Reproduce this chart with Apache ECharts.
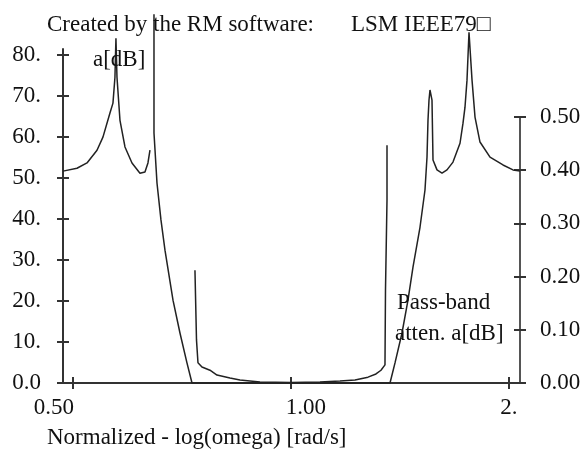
<!DOCTYPE html>
<html>
<head>
<meta charset="utf-8">
<script src="https://cdn.jsdelivr.net/npm/echarts@6/dist/echarts.min.js"></script>
<style>
html, body { margin: 0; padding: 0; background: #fff; }
#chart { width: 586px; height: 454px; }
</style>
</head>
<body>
<div id="chart"></div>
<script>
var myChart = echarts.init(document.getElementById('chart'));

// stop-band attenuation, left lobe (a[dB])
var lobeW  = [0.4844, 0.5064, 0.5228, 0.5397, 0.5500, 0.5624, 0.5678, 0.5714, 0.5732, 0.5751, 0.5806, 0.5899, 0.6032, 0.6187, 0.6286, 0.6346, 0.6387];
var lobeDb = [51.7, 52.4, 53.7, 56.8, 60.0, 65.9, 68.3, 74.6, 84.1, 74.6, 64.1, 57.6, 53.7, 51.2, 51.5, 53.7, 56.8];

// stop-band attenuation through the transition bands and the right lobes
var stopW  = [0.6469, 0.6469, 0.6531, 0.6614, 0.6699, 0.6872, 0.7026, 0.7184, 0.7300, 1.0000, 1.3700, 1.3920, 1.4233, 1.4506, 1.4739, 1.5071, 1.5312, 1.5410, 1.5459, 1.5508, 1.5557, 1.5657, 1.5707, 1.5908, 1.6163, 1.6422, 1.6738, 1.7115, 1.7279, 1.7389, 1.7500, 1.7612, 1.7668, 1.7782, 1.7951, 1.8238, 1.8828, 1.9622, 2.0256, 2.0712];
var stopDb = [90.0, 61.0, 48.8, 39.8, 32.4, 20.2, 12.2, 4.9, 0.0, 0.0, 0.0, 4.9, 12.2, 20.2, 28.3, 38.0, 47.1, 55.1, 64.1, 69.0, 71.5, 69.0, 54.4, 52.0, 51.2, 52.0, 53.9, 58.5, 63.4, 67.3, 73.9, 85.6, 85.6, 73.9, 64.9, 58.8, 55.1, 53.2, 52.0, 51.7];

// pass-band attenuation (right axis)
var passW  = [0.7369, 0.7405, 0.7440, 0.7535, 0.7729, 0.7903, 0.8237, 0.8503, 0.9061, 1.0000, 1.0966, 1.1686, 1.2257, 1.2774, 1.3103, 1.3313, 1.3483, 1.3505, 1.3570, 1.3570];
var passDb = [0.212, 0.081, 0.038, 0.030, 0.024, 0.015, 0.0094, 0.0056, 0.0019, 0.001, 0.0019, 0.0038, 0.0056, 0.011, 0.017, 0.024, 0.034, 0.175, 0.344, 0.447];

var dbTicks = [0, 10, 20, 30, 40, 50, 60, 70, 80];
var passTicks = [0, 0.1, 0.2, 0.3, 0.4, 0.5];
var omegaTicks = [0.5, 1, 2];
var omegaLabels = ['0.50', '1.00', '2.'];

var font = 'Liberation Serif';
var fontSize = 23;
var ink = '#111';
var axisColor = '#333';

function zip(xs, ys) {
    return xs.map(function (x, i) { return [x, ys[i]]; });
}

var xRange = { min: 0.4844, max: 2.0712 };

function omegaLabel(v) {
    var idx = 0;
    omegaTicks.forEach(function (t, i) { if (Math.abs(t - v) < 1e-6) idx = i; });
    var tag = ['l', 'r', 'c'][idx];
    return '{' + tag + '|' + omegaLabels[idx] + '}';
}

var labelStyle = { fontFamily: font, fontSize: fontSize, color: ink };

function note(text, left, top) {
    return {
        text: text, left: left, top: top, padding: 0,
        textStyle: { fontFamily: font, fontSize: fontSize, fontWeight: 'normal', color: ink }
    };
}

var option = {
    backgroundColor: '#fff',
    animation: false,
    title: [
        note('Created by the RM software:', 47, 13),
        note('LSM IEEE79\u25A1', 351, 13),
        note('a[dB]', 93, 48),
        note('Pass-band', 397, 291),
        note('atten. a[dB]', 395, 322),
        note('Normalized - log(omega) [rad/s]', 47, 426)
    ],
    grid: [
        { left: 63, right: 66, top: 49, bottom: 71 },
        { left: 63, right: 66, top: 117, bottom: 71 }
    ],
    xAxis: [{
        gridIndex: 0,
        type: 'log',
        min: xRange.min,
        max: xRange.max,
        position: 'bottom',
        axisLine: { show: true, lineStyle: { color: axisColor, width: 2 } },
        axisTick: { show: true, customValues: omegaTicks, length: 6, lineStyle: { color: axisColor, width: 2 } },
        axisLabel: {
            customValues: omegaTicks,
            margin: 13,
            formatter: omegaLabel,
            rich: {
                l: Object.assign({ padding: [0, 38, 0, 0] }, labelStyle),
                r: Object.assign({ padding: [0, 0, 0, 30] }, labelStyle),
                c: Object.assign({}, labelStyle)
            }
        },
        splitLine: { show: false },
        minorTick: { show: false }
    }, {
        gridIndex: 0,
        type: 'log',
        min: xRange.min,
        max: xRange.max,
        position: 'bottom',
        axisLine: { show: false },
        axisTick: { show: true, inside: true, customValues: omegaTicks, length: 6, lineStyle: { color: axisColor, width: 2 } },
        axisLabel: { show: false },
        splitLine: { show: false }
    }, {
        gridIndex: 1,
        type: 'log',
        min: xRange.min,
        max: xRange.max,
        show: false
    }],
    yAxis: [{
        gridIndex: 0,
        type: 'value',
        min: 0,
        max: 81.5,
        position: 'left',
        axisLine: { show: true, lineStyle: { color: axisColor, width: 2 } },
        axisTick: { show: true, customValues: dbTicks, length: 6, lineStyle: { color: axisColor, width: 2 } },
        axisLabel: {
            customValues: dbTicks,
            margin: 22,
            fontFamily: font,
            fontSize: fontSize,
            color: ink,
            formatter: function (v) { return v === 0 ? '0.0' : v + '.'; }
        },
        splitLine: { show: false }
    }, {
        gridIndex: 0,
        type: 'value',
        min: 0,
        max: 81.5,
        position: 'left',
        axisLine: { show: false },
        axisTick: { show: true, inside: true, customValues: dbTicks, length: 6, lineStyle: { color: axisColor, width: 2 } },
        axisLabel: { show: false },
        splitLine: { show: false }
    }, {
        gridIndex: 1,
        type: 'value',
        min: 0,
        max: 0.5,
        position: 'right',
        axisLine: { show: true, lineStyle: { color: '#555', width: 2 } },
        axisTick: { show: true, customValues: passTicks, length: 6, lineStyle: { color: axisColor, width: 2 } },
        axisLabel: {
            customValues: passTicks,
            margin: 20,
            fontFamily: font,
            fontSize: fontSize,
            color: ink,
            formatter: function (v) { return v.toFixed(2); }
        },
        splitLine: { show: false }
    }, {
        gridIndex: 1,
        type: 'value',
        min: 0,
        max: 0.5,
        position: 'right',
        axisLine: { show: false },
        axisTick: { show: true, inside: true, customValues: passTicks, length: 6, lineStyle: { color: axisColor, width: 2 } },
        axisLabel: { show: false },
        splitLine: { show: false }
    }],
    series: [{
        name: 'stop lobe',
        type: 'line',
        xAxisIndex: 0,
        yAxisIndex: 0,
        showSymbol: false,
        clip: false,
        lineStyle: { color: '#222', width: 1.5 },
        data: zip(lobeW, lobeDb)
    }, {
        name: 'stop band',
        type: 'line',
        xAxisIndex: 0,
        yAxisIndex: 0,
        showSymbol: false,
        clip: false,
        lineStyle: { color: '#222', width: 1.5 },
        data: zip(stopW, stopDb)
    }, {
        name: 'pass band',
        type: 'line',
        xAxisIndex: 2,
        yAxisIndex: 2,
        showSymbol: false,
        clip: false,
        lineStyle: { color: '#222', width: 1.5 },
        data: zip(passW, passDb)
    }]
};

myChart.setOption(option);
</script>
</body>
</html>
